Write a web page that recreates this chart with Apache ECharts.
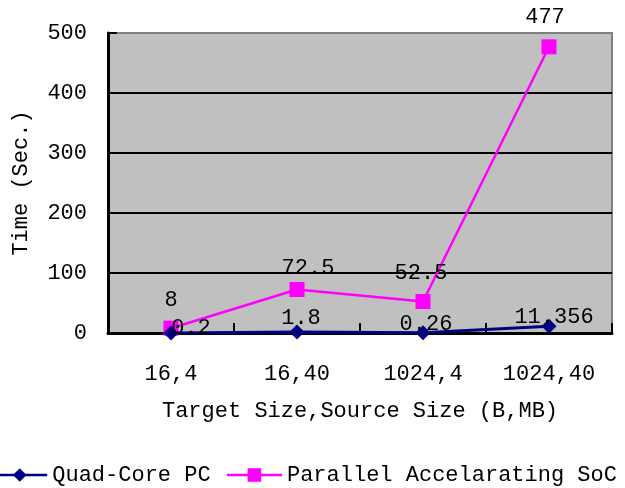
<!DOCTYPE html>
<html>
<head>
<meta charset="utf-8">
<script src="https://cdn.jsdelivr.net/npm/echarts@6/dist/echarts.min.js"></script>
<style>html,body{margin:0;padding:0;background:#fff}#c{width:625px;height:488px}</style>
</head>
<body>
<div id="c"></div>
<script>
const categories = ['16,4', '16,40', '1024,4', '1024,40'];
const quadCore = [0.2, 1.8, 0.26, 11.356];
const socValues = [8, 72.5, 52.5, 477];
const yTicks = [0, 100, 200, 300, 400, 500];

// label placement (style only): [dx, dy] offsets of label centre from point
const quadLabelOffsets = [[20, -5], [4, -14], [3, -9], [5, -9]];
const socLabelOffsets = [[0, -28], [11, -21], [-2, -28], [-4, -30]];

const FONT = 'Liberation Mono';
const TXT = '#000';
const chart = echarts.init(document.getElementById('c'), null, {renderer: 'canvas'});

function withLabels(values, offsets) {
  return values.map((v, i) => ({
    value: v,
    label: {offset: offsets[i]}
  }));
}

chart.setOption({
  animation: false,
  textStyle: {fontFamily: FONT},
  grid: {
    left: 108, right: 13, top: 33, bottom: 155,
    show: true, backgroundColor: '#C0C0C0', borderColor: '#808080', borderWidth: 2
  },
  legend: {
    left: -14, top: 459, width: 700,
    itemWidth: 55, itemHeight: 17, itemGap: 15,
    lineStyle: {width: 2.5},
    textStyle: {fontFamily: FONT, fontSize: 22, color: TXT},
    data: ['Quad-Core PC', 'Parallel Accelarating SoC']
  },
  xAxis: {
    type: 'category',
    data: categories,
    boundaryGap: true,
    axisLine: {lineStyle: {color: '#000', width: 3}},
    axisTick: {show: true, inside: true, length: 10, lineStyle: {color: '#000', width: 2}},
    axisLabel: {fontFamily: FONT, fontSize: 22, color: TXT, margin: 30},
    name: 'Target Size,Source Size (B,MB)',
    nameLocation: 'middle',
    nameGap: 67,
    nameTextStyle: {fontFamily: FONT, fontSize: 22, color: TXT}
  },
  yAxis: {
    type: 'value',
    min: yTicks[0], max: yTicks[yTicks.length - 1], interval: 100,
    axisLine: {show: true, lineStyle: {color: '#000', width: 3}},
    axisTick: {show: true, inside: true, length: 9, lineStyle: {color: '#000', width: 2}},
    axisLabel: {fontFamily: FONT, fontSize: 22, color: TXT, margin: 21},
    splitLine: {show: true, lineStyle: {color: ['#000', '#000', '#000', '#000', '#000', '#808080'], width: 2}},
    name: 'Time (Sec.)',
    nameLocation: 'middle',
    nameGap: 76,
    nameTextStyle: {fontFamily: FONT, fontSize: 22, color: TXT}
  },
  series: [
    {
      name: 'Quad-Core PC',
      type: 'line',
      data: withLabels(quadCore, quadLabelOffsets),
      symbol: 'diamond', symbolSize: 15,
      lineStyle: {color: '#000080', width: 3},
      itemStyle: {color: '#000080'},
      label: {show: true, position: 'inside', fontFamily: FONT, fontSize: 22, color: TXT},
      z: 3
    },
    {
      name: 'Parallel Accelarating SoC',
      type: 'line',
      data: withLabels(socValues, socLabelOffsets),
      symbol: 'rect', symbolSize: 15,
      lineStyle: {color: '#FF00FF', width: 2.5},
      itemStyle: {color: '#FF00FF'},
      label: {show: true, position: 'inside', fontFamily: FONT, fontSize: 22, color: TXT},
      z: 2
    }
  ]
});
</script>
</body>
</html>
